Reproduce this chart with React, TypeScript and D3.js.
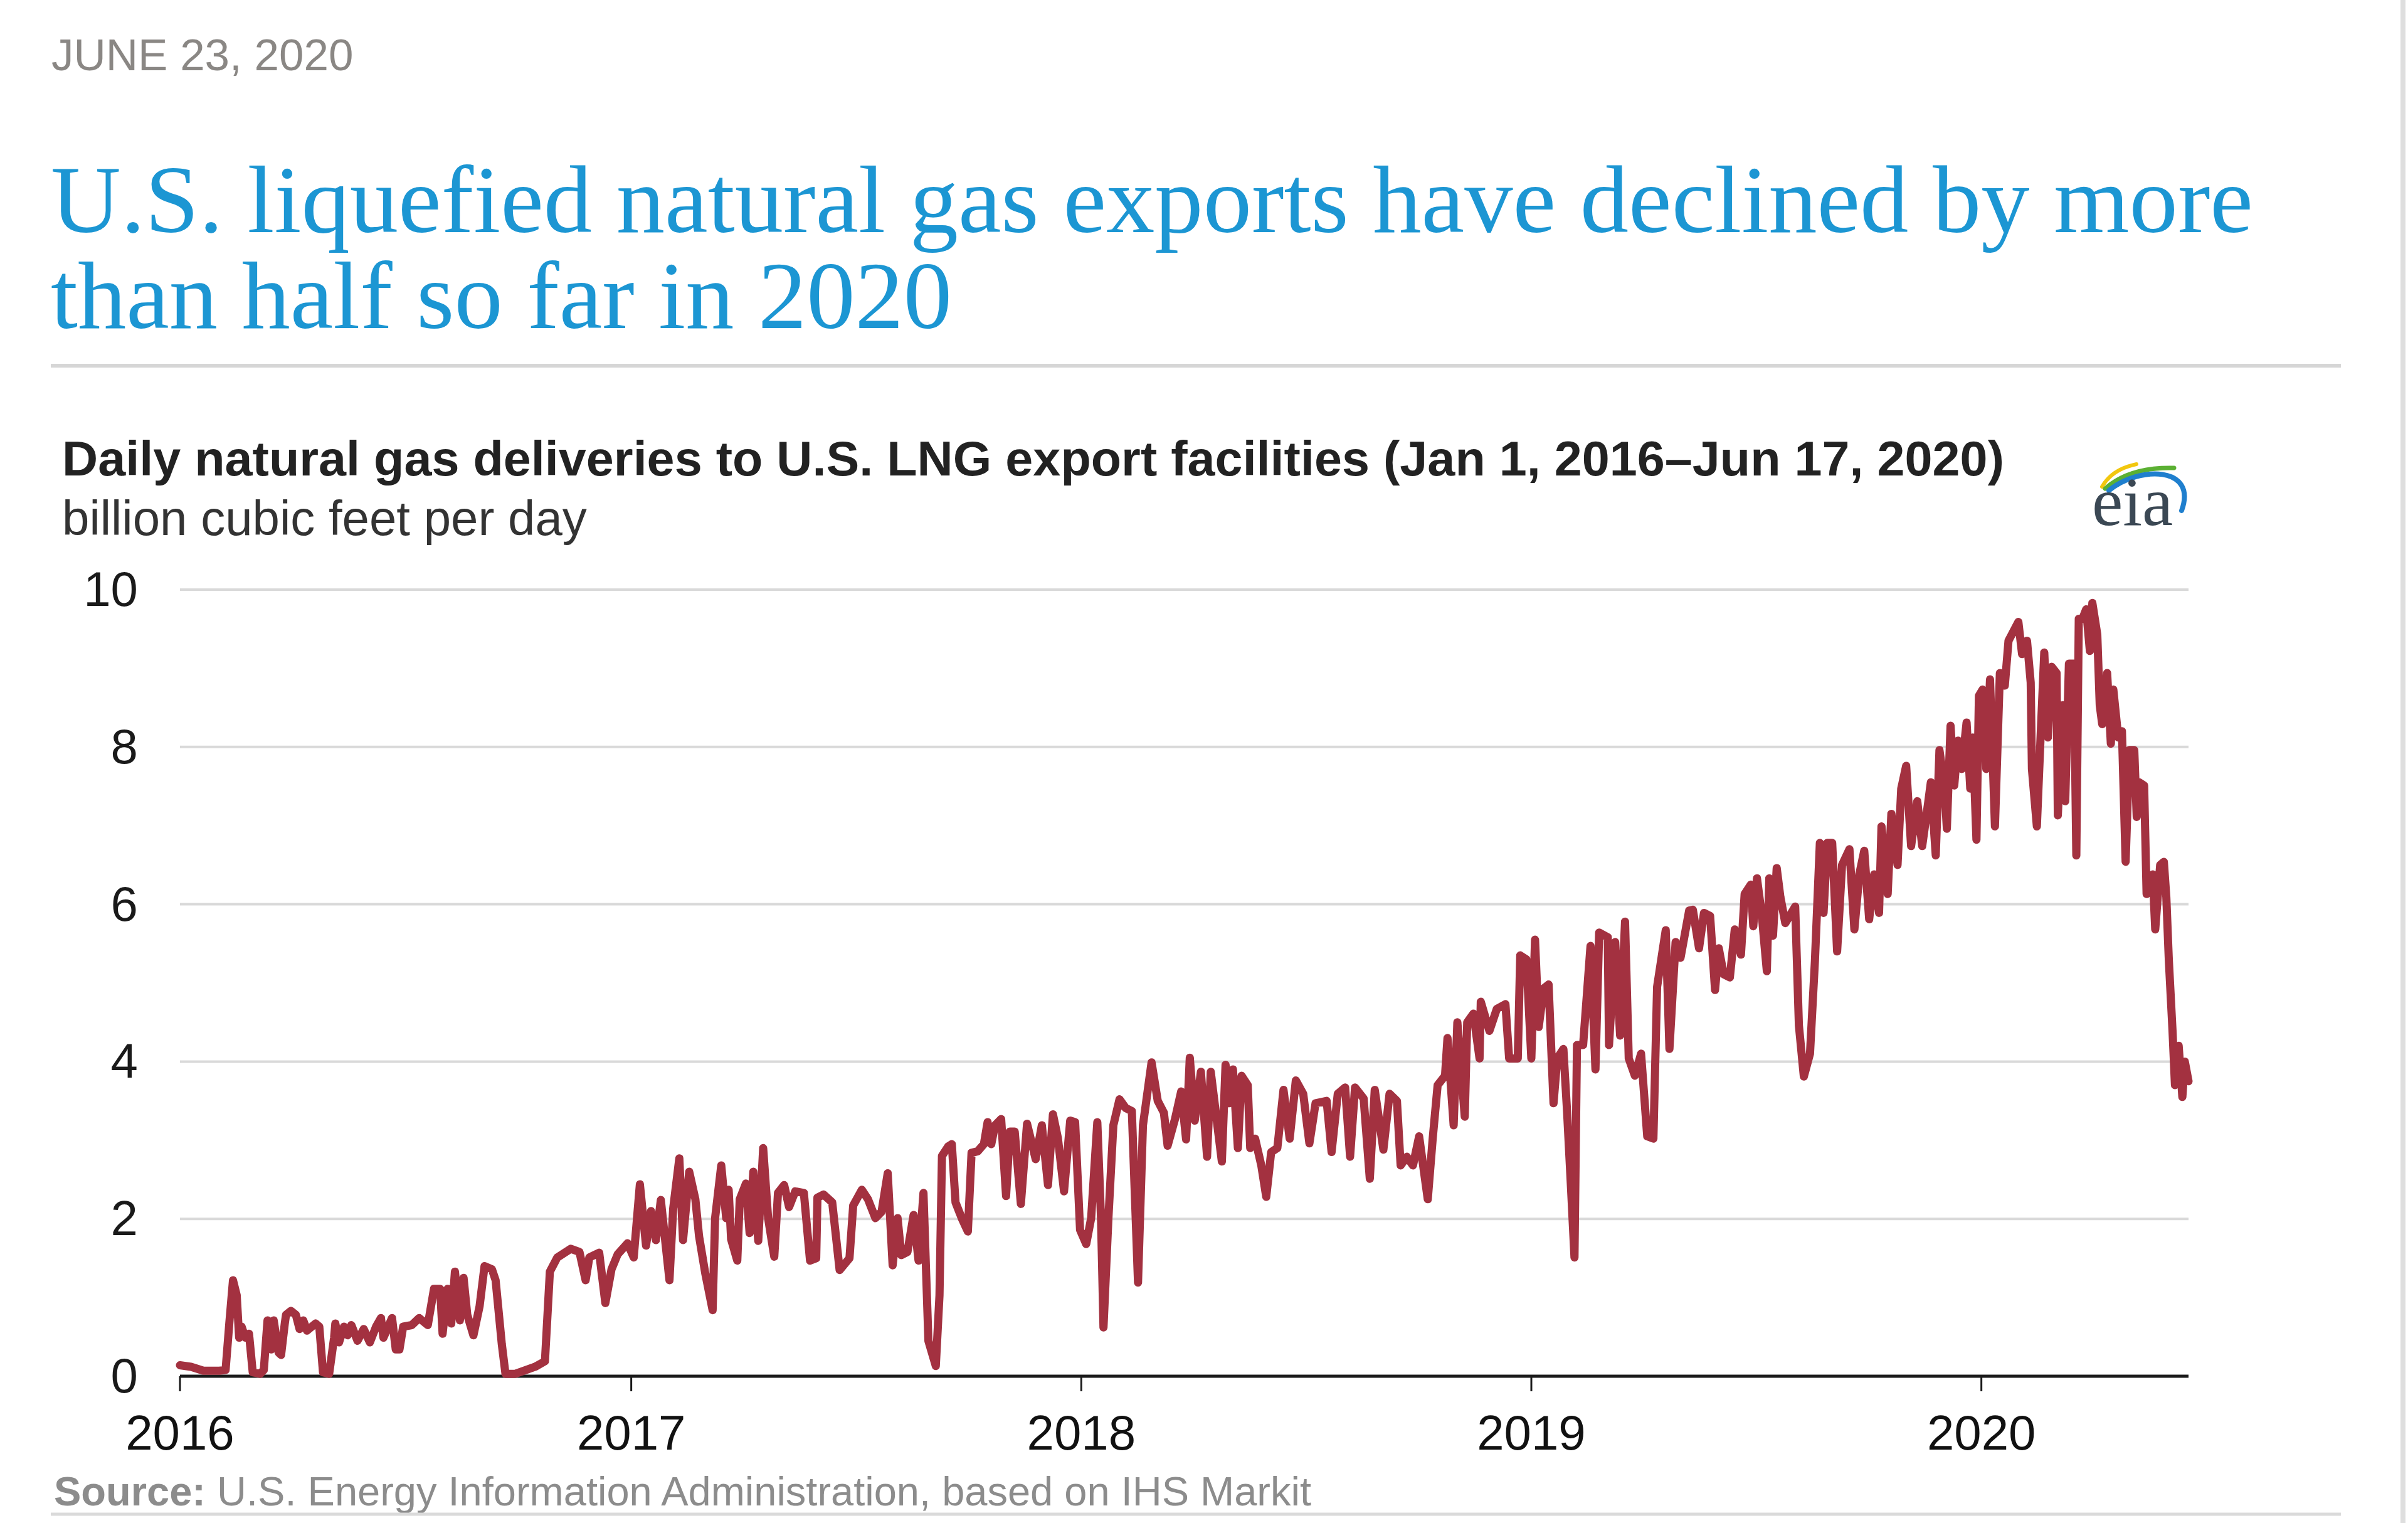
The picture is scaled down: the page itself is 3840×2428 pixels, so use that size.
import React from 'react';
import * as d3 from 'd3';

// Days since Jan 1, 2016 and daily LNG feedgas deliveries (Bcf/d)
const dayOffsets = [
  0, 9, 19, 32, 37, 40, 43, 46, 48, 50, 53, 56, 59, 65, 68, 71, 74, 76, 80, 82, 85, 86, 90, 94, 97, 100, 103, 110, 113, 116, 121, 125, 126, 129, 133, 136, 139, 144, 149, 154, 159, 163, 165, 172, 175, 178, 181, 188, 194, 201, 206, 211, 213, 217, 220, 223, 227, 230, 233, 238, 243, 247, 253, 256, 261, 264, 272, 288, 296, 300, 306, 317, 324, 329, 332, 340, 345, 350, 355, 363, 368, 373, 378, 382, 386, 390, 397, 400, 405, 408,
  413, 418, 421, 426, 432, 434, 439, 443, 445, 447, 452, 454, 459, 462, 465, 469, 473, 477, 482, 485, 490, 494, 499, 506, 511, 516, 517, 522, 529, 535, 543, 546, 553, 558, 564, 569, 574, 578, 582, 585, 590, 595, 599, 603, 607, 613, 616, 618, 623, 626, 629, 634, 639, 642, 647, 652, 655, 658, 661, 666, 670, 673, 677, 682, 687, 694, 699, 704, 708, 712, 717, 722, 726, 730, 735, 739, 744, 747, 749, 753, 757, 762, 767, 772, 777, 781, 788, 793, 798, 801, 807, 812, 816, 819,
  823, 828, 833, 836, 845, 848, 851, 854, 858, 861, 866, 868, 872, 877, 881, 885, 890, 895, 900, 905, 911, 916, 921, 930, 934, 939, 945, 949, 953, 960, 965, 969, 976, 981, 987, 990, 995, 1000, 1005, 1012, 1016, 1020, 1026, 1028, 1033, 1036, 1042, 1044, 1049, 1054, 1055, 1062, 1068, 1075, 1078, 1085, 1087, 1092, 1096, 1099, 1102, 1106, 1110, 1114, 1117, 1122, 1125, 1128, 1131, 1133, 1138, 1141, 1144, 1148, 1151, 1158, 1159, 1164, 1168, 1172, 1175, 1180, 1185, 1190, 1195, 1198, 1205, 1208, 1213, 1217, 1224,
  1227, 1232, 1236, 1241, 1245, 1248, 1252, 1257, 1261, 1266, 1269, 1274, 1276, 1279, 1283, 1287, 1289, 1292, 1295, 1298, 1302, 1310, 1313, 1317, 1322, 1326, 1330, 1333, 1336, 1340, 1344, 1348, 1354, 1358, 1362, 1366, 1370, 1374, 1378, 1380, 1385, 1388, 1393, 1396, 1400, 1404, 1409, 1413, 1418, 1420, 1424, 1427, 1431, 1433, 1436, 1439, 1442, 1445, 1449, 1452, 1454, 1457, 1459,
  1462, 1465, 1468, 1472, 1476, 1480, 1483, 1487, 1491, 1494, 1498, 1501, 1502, 1506, 1509, 1512, 1515, 1518, 1522, 1523, 1527, 1529, 1532, 1536, 1538, 1540, 1543, 1546, 1549, 1551, 1555, 1557, 1559, 1563, 1566, 1568, 1572, 1575, 1578, 1581, 1585, 1587, 1589, 1593, 1595, 1600, 1602, 1606, 1609, 1611, 1613, 1616, 1618, 1621, 1624, 1626, 1629,
];

const gasBcfd = [
  0.14, 0.12, 0.07, 0.07, 0.08, 0.67, 1.22, 1.03, 0.49, 0.63, 0.49, 0.54, 0.05, 0.03, 0.08, 0.71, 0.34, 0.71, 0.30, 0.27, 0.67, 0.78, 0.83, 0.78, 0.60, 0.71, 0.58, 0.67, 0.63, 0.05, 0.03, 0.49, 0.67, 0.43, 0.63, 0.52, 0.65, 0.45, 0.60, 0.43, 0.63, 0.74, 0.49, 0.74, 0.34, 0.34, 0.63, 0.65, 0.74, 0.65, 1.11, 1.11, 0.54, 1.11, 0.67, 1.33, 0.71, 1.25, 0.78, 0.52, 0.89, 1.40, 1.36, 1.22, 0.41, 0.03, 0.03, 0.12, 0.19, 1.33, 1.51, 1.62, 1.58, 1.22, 1.51, 1.57, 0.93, 1.36, 1.55, 1.69, 1.51, 2.44, 1.66, 2.10, 1.73, 2.24, 1.22, 2.13, 2.77, 1.73,
  2.60, 2.25, 1.78, 1.31, 0.84, 2.01, 2.68, 2.01, 2.37, 1.74, 1.47, 2.25, 2.45, 1.82, 2.60, 1.72, 2.90, 2.01, 1.52, 2.33, 2.43, 2.15, 2.35, 2.33, 1.47, 1.50, 2.27, 2.31, 2.21, 1.35, 1.50, 2.17, 2.37, 2.25, 2.01, 2.09, 2.58, 1.41, 2.01, 1.54, 1.58, 2.05, 1.47, 2.33, 0.45, 0.13, 1.03, 2.80, 2.92, 2.95, 2.21, 2.01, 1.84, 2.84, 2.86, 2.95, 3.23, 2.95, 3.19, 3.27, 2.29, 3.11, 3.11, 2.19, 3.21, 2.76, 3.19, 2.43, 3.33, 3.03, 2.35, 3.25, 3.23, 1.86, 1.68, 2.01, 3.23, 2.01, 0.62, 2.01, 3.19, 3.52, 3.41, 3.37, 1.19, 3.19, 3.99, 3.50, 3.35, 2.93, 3.27, 3.62, 3.01, 4.05,
  3.25, 3.87, 2.79, 3.87, 2.73, 3.96, 3.47, 3.90, 2.90, 3.82, 3.70, 2.90, 3.02, 2.68, 2.28, 2.85, 2.90, 3.64, 3.02, 3.76, 3.59, 2.96, 3.47, 3.50, 2.85, 3.59, 3.67, 2.79, 3.67, 3.53, 2.51, 3.64, 2.88, 3.59, 3.50, 2.68, 2.79, 2.68, 3.05, 2.25, 3.02, 3.70, 3.82, 4.30, 3.19, 4.50, 3.30, 4.50, 4.61, 4.04, 4.76, 4.39, 4.67, 4.73, 4.04, 4.04, 5.35, 5.30, 4.04, 5.55, 4.44, 4.93, 4.98, 3.47, 4.04, 4.16, 3.36, 2.45, 1.51, 4.21, 4.21, 4.84, 5.47, 3.90, 5.64, 5.58, 4.21, 5.52, 4.33, 5.78, 4.04, 3.82, 4.10, 3.05, 3.02, 4.95, 5.67, 4.16, 5.52, 5.32, 5.92,
  5.93, 5.44, 5.89, 5.85, 4.91, 5.44, 5.11, 5.07, 5.68, 5.36, 6.13, 6.25, 5.72, 6.33, 5.85, 5.15, 6.33, 5.60, 6.46, 6.09, 5.76, 5.97, 4.46, 3.81, 4.10, 5.28, 6.78, 5.89, 6.78, 6.78, 5.40, 6.50, 6.70, 5.68, 6.38, 6.68, 5.81, 6.38, 5.89, 6.99, 6.13, 7.15, 6.50, 7.47, 7.76, 6.74, 7.31, 6.74, 7.31, 7.55, 6.62, 7.96, 7.51, 6.96, 8.27, 7.51, 8.08, 7.72, 8.31, 7.47, 8.12, 6.82, 8.65,
  8.73, 7.72, 8.86, 6.99, 8.94, 8.78, 9.35, 9.47, 9.59, 9.18, 9.35, 8.82, 7.72, 6.99, 8.12, 9.20, 8.12, 9.02, 8.94, 7.13, 8.53, 7.31, 9.06, 9.06, 6.62, 9.63, 9.63, 9.75, 9.22, 9.83, 9.43, 8.53, 8.29, 8.94, 8.04, 8.73, 8.12, 8.20, 6.54, 7.96, 7.96, 7.11, 7.55, 7.51, 6.13, 6.38, 5.68, 6.50, 6.54, 6.09, 5.30, 4.40, 3.70, 4.20, 3.55, 4.00, 3.75,
];

const yTicks = [0, 2, 4, 6, 8, 10];
const xTickYears = [2016, 2017, 2018, 2019, 2020];
const dateLine = 'JUNE 23, 2020';
const titleLines = ['U.S. liquefied natural gas exports have declined by more', 'than half so far in 2020'];
const chartTitle = 'Daily natural gas deliveries to U.S. LNG export facilities (Jan 1, 2016\u2013Jun 17, 2020)';
const unitsLabel = 'billion cubic feet per day';
const sourceLabel = 'Source:';
const sourceText = ' U.S. Energy Information Administration, based on IHS Markit';

const SANS = '"Liberation Sans", Arial, Helvetica, sans-serif';
const SERIF = '"Liberation Serif", "Times New Roman", serif';

export default function App() {
  const W = 3840;
  const H = 2428;
  const start = new Date(Date.UTC(2016, 0, 1));
  const end = new Date(Date.UTC(2020, 5, 17));
  const x = d3.scaleUtc().domain([start, end]).range([287, 3490]);
  const y = d3.scaleLinear().domain([0, 10]).range([2194, 940]);

  const points = dayOffsets.map((d, i) => ({ date: d3.utcDay.offset(start, d), v: gasBcfd[i] }));
  const lineGen = d3
    .line<{ date: Date; v: number }>()
    .x((p) => x(p.date))
    .y((p) => y(p.v));
  const pathD = lineGen(points) || '';

  const [x0, x1] = x.range();

  return (
    <svg
      width={W}
      height={H}
      viewBox={`0 0 ${W} ${H}`}
      style={{ position: 'absolute', left: 0, top: 0, display: 'block', background: '#fff' }}
    >
      <rect x={0} y={0} width={W} height={H} fill="#fff" />
      {/* right border */}
      <line x1={3832} x2={3832} y1={0} y2={H} stroke="#dedede" strokeWidth={8} />

      {/* date */}
      <text x={82} y={112} fontFamily={SANS} fontSize={71} fill="#8a8784">
        {dateLine}
      </text>

      {/* headline */}
      <text x={81} y={370} fontFamily={SERIF} fontSize={152} fill="#1c96d3" textLength={3512} lengthAdjust="spacingAndGlyphs">
        {titleLines[0]}
      </text>
      <text x={81} y={523} fontFamily={SERIF} fontSize={152} fill="#1c96d3" textLength={1437} lengthAdjust="spacingAndGlyphs">
        {titleLines[1]}
      </text>
      <line x1={81} x2={3733} y1={583} y2={583} stroke="#d6d6d6" strokeWidth={6} />

      {/* chart title & units */}
      <text x={99} y={758} fontFamily={SANS} fontSize={78} fontWeight="bold" fill="#222" textLength={3097} lengthAdjust="spacingAndGlyphs">
        {chartTitle}
      </text>
      <text x={99} y={853} fontFamily={SANS} fontSize={78} fill="#333">
        {unitsLabel}
      </text>

      {/* eia logo */}
      <g>
        <path d="M3352,776 Q3368,748 3407,740" fill="none" stroke="#f2c70f" strokeWidth={6} strokeLinecap="round" />
        <path d="M3357,779 Q3396,744 3467,746" fill="none" stroke="#5bb033" strokeWidth={7} strokeLinecap="round" />
        <path d="M3363,782 C3410,743 3505,742 3479,814" fill="none" stroke="#1f7fce" strokeWidth={8} strokeLinecap="round" />
        <text x={3336} y={837} fontFamily={SERIF} fontSize={111} fill="#3b4854">
          eia
        </text>
      </g>

      {/* gridlines */}
      {yTicks
        .filter((t) => t > 0)
        .map((t) => (
          <line key={`g${t}`} x1={x0} x2={x1} y1={y(t)} y2={y(t)} stroke="#d9d9d9" strokeWidth={4} />
        ))}

      {/* y tick labels */}
      {yTicks.map((t) => (
        <text key={`yl${t}`} x={220} y={y(t) + 26} textAnchor="end" fontFamily={SANS} fontSize={78} fill="#1a1a1a">
          {t}
        </text>
      ))}

      {/* x axis */}
      <line x1={x0} x2={x1} y1={y(0)} y2={y(0)} stroke="#1a1a1a" strokeWidth={5} />
      {xTickYears.map((yr) => {
        const xx = x(new Date(Date.UTC(yr, 0, 1)));
        return (
          <g key={`xt${yr}`}>
            <line x1={xx} x2={xx} y1={y(0)} y2={y(0) + 24} stroke="#1a1a1a" strokeWidth={3} />
            <text x={xx} y={2311} textAnchor="middle" fontFamily={SANS} fontSize={78} fill="#111">
              {yr}
            </text>
          </g>
        );
      })}

      {/* data line */}
      <path d={pathD} fill="none" stroke="#a33140" strokeWidth={13} strokeLinejoin="round" strokeLinecap="round" />

      {/* source */}
      <text x={86} y={2400} fontFamily={SANS} fontSize={65} fill="#8c8c8c">
        <tspan fontWeight="bold">{sourceLabel}</tspan>
        <tspan>{sourceText}</tspan>
      </text>
      <line x1={81} x2={3733} y1={2414} y2={2414} stroke="#dadada" strokeWidth={5} />
    </svg>
  );
}
